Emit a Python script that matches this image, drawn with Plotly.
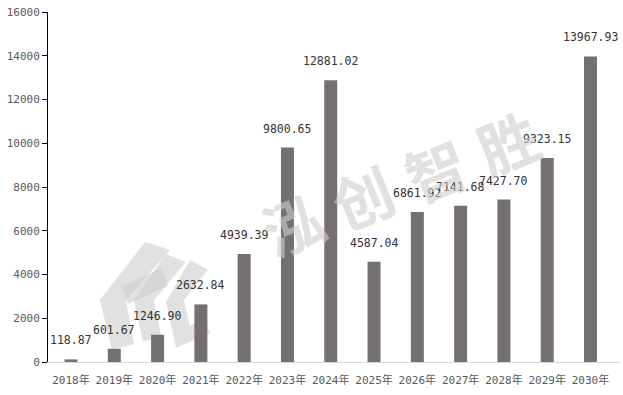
import plotly.graph_objects as go

years = ["2018年", "2019年", "2020年", "2021年", "2022年", "2023年", "2024年",
         "2025年", "2026年", "2027年", "2028年", "2029年", "2030年"]
values = [118.87, 601.67, 1246.90, 2632.84, 4939.39, 9800.65, 12881.02,
          4587.04, 6861.92, 7141.68, 7427.70, 9323.15, 13967.93]
y_ticks = [0, 2000, 4000, 6000, 8000, 10000, 12000, 14000, 16000]
y_tick_text = [str(v) for v in y_ticks]

FONT = "DejaVu Sans Mono, Noto Sans CJK SC, monospace"

W, H = 623, 395
L, R, T, B = 48, 3, 12, 33

def px(x, y):
    # convert pixel position to paper coords
    return (x - L) / (W - L - R), (H - B - y) / (H - T - B)

fig = go.Figure()
fig.add_trace(go.Bar(x=years, y=values, width=0.3, marker=dict(color="#757070", line=dict(width=0)),
                     hoverinfo="x+y"))

for yr, v in zip(years, values):
    fig.add_annotation(x=yr, y=v, text=f"{v:.2f}", showarrow=False, yshift=19,
                       font=dict(family=FONT, size=11.5, color="#333333"))

# watermark text
chars = ["泓", "创", "智", "胜"]
centers = [(292, 222), (362, 195), (435, 168), (507, 140)]
wm_col = "rgba(205,205,205,0.6)"
for c, (cx, cy) in zip(chars, centers):
    xx, yy = px(cx, cy)
    fig.add_annotation(xref="paper", yref="paper", x=xx, y=yy, text=f"<b>{c}</b>", showarrow=False,
                       textangle=-22, font=dict(family="Noto Sans CJK SC", size=60, color=wm_col),
                       xanchor="center", yanchor="middle")

# watermark logo (rough)
def path(points):
    s = ""
    for i, (x, y) in enumerate(points):
        xx, yy = px(x, y)
        s += ("M" if i == 0 else "L") + f"{xx:.4f},{yy:.4f} "
    return s + "Z"

polys = [
    [(145, 242), (170, 250), (126, 300), (134, 344), (112, 350), (100, 300)],
    [(122, 286), (162, 268), (168, 286), (128, 304)],
    [(166, 254), (186, 262), (154, 300), (161, 336), (143, 342), (134, 300)],
    [(190, 260), (208, 270), (184, 300), (190, 326), (204, 318), (210, 333), (176, 348), (166, 302)],
]
for p in polys:
    fig.add_shape(type="path", xref="paper", yref="paper", path=path(p),
                  fillcolor=wm_col, line=dict(width=0), layer="below")

fig.update_layout(
    width=W, height=H,
    margin=dict(l=L, r=R, t=T, b=B),
    paper_bgcolor="white", plot_bgcolor="white",
    showlegend=False,
    bargap=0.7,
    xaxis=dict(type="category", showgrid=False, showline=True, linecolor="#d9d9d9", linewidth=1,
               ticks="", ticklabelstandoff=8,
               tickfont=dict(family=FONT, size=11, color="#595959"), fixedrange=True),
    yaxis=dict(range=[0, 16000], tickvals=y_ticks, ticktext=y_tick_text, showgrid=False, zeroline=False,
               showline=True, linecolor="black", linewidth=1, ticks="outside", ticklen=5,
               tickcolor="black", tickfont=dict(family=FONT, size=11, color="#595959"), fixedrange=True),
)

fig.write_html("out.html")
